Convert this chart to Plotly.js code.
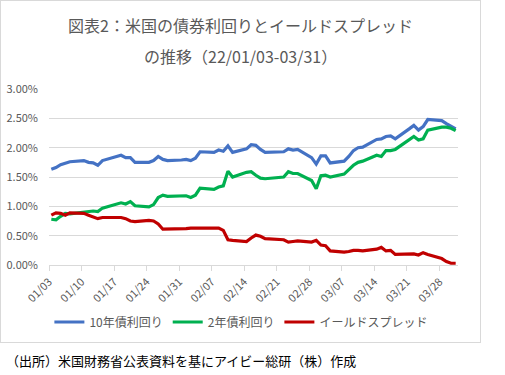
<!DOCTYPE html>
<html>
<head>
<meta charset="utf-8">
<script src="https://cdn.plot.ly/plotly-3.0.1.min.js"></script>
<style>
  html, body { margin: 0; padding: 0; background: #fff; }
  #wrap { position: relative; width: 505px; height: 375px; }
  #chart { width: 505px; height: 375px; }
  #frame { position: absolute; left: 0; top: 0; width: 479px; height: 341px;
           border: 1px solid #d9d9d9; pointer-events: none; }
</style>
</head>
<body>
<div id="wrap"><div id="chart"></div><div id="frame"></div></div>
<script>
// Business days, 2022
const dates = [
  '01-03','01-04','01-05','01-06','01-07','01-10','01-11','01-12','01-13','01-14',
  '01-18','01-19','01-20','01-21','01-24','01-25','01-26','01-27','01-28','01-31',
  '02-01','02-02','02-03','02-04','02-07','02-08','02-09','02-10','02-11','02-14',
  '02-15','02-16','02-17','02-18','02-22','02-23','02-24','02-25','02-28',
  '03-01','03-02','03-03','03-04','03-07','03-08','03-09','03-10','03-11','03-14',
  '03-15','03-16','03-17','03-18','03-21','03-22','03-23','03-24','03-25','03-28',
  '03-29','03-30','03-31'
];
// 10-year yield (%)
const yield10 = [
  1.63,1.66,1.71,1.73,1.76,1.78,1.75,1.74,1.70,1.78,
  1.87,1.83,1.83,1.75,1.75,1.78,1.85,1.80,1.78,1.79,
  1.80,1.78,1.82,1.93,1.92,1.96,1.94,2.03,1.92,1.98,
  2.05,2.04,1.97,1.92,1.93,1.98,1.96,1.97,1.83,
  1.72,1.86,1.86,1.74,1.77,1.85,1.95,2.00,2.01,2.14,
  2.15,2.19,2.20,2.15,2.32,2.38,2.30,2.36,2.48,2.46,
  2.41,2.36,2.32
];
// 2-year yield (%)
const yield2 = [
  0.78,0.77,0.83,0.88,0.87,0.90,0.90,0.92,0.91,0.97,
  1.06,1.04,1.08,1.01,0.99,1.03,1.15,1.19,1.17,1.18,
  1.18,1.15,1.19,1.31,1.29,1.33,1.35,1.60,1.50,1.58,
  1.59,1.53,1.48,1.47,1.50,1.59,1.56,1.56,1.44,
  1.30,1.52,1.53,1.50,1.55,1.62,1.70,1.75,1.77,1.87,
  1.85,1.95,1.95,1.97,2.14,2.19,2.13,2.15,2.30,2.35,
  2.35,2.33,2.29
];
// Yield spread (%)
const spread = [
  0.85,0.89,0.88,0.85,0.89,0.88,0.85,0.82,0.79,0.81,
  0.81,0.79,0.75,0.74,0.76,0.75,0.70,0.61,0.61,0.61,
  0.62,0.63,0.63,0.62,0.63,0.63,0.59,0.43,0.42,0.40,
  0.46,0.51,0.49,0.45,0.43,0.39,0.40,0.41,0.39,
  0.42,0.34,0.33,0.24,0.22,0.23,0.25,0.25,0.24,0.27,
  0.30,0.24,0.25,0.18,0.18,0.19,0.17,0.21,0.18,0.11,
  0.06,0.03,0.03
];
const seriesNames = ['10年債利回り', '2年債利回り', 'イールドスプレッド'];
const titleLine1 = '図表2：米国の債券利回りとイールドスプレッド';
const titleLine2 = 'の推移（22/01/03-03/31）';
const sourceText = '（出所）米国財務省公表資料を基にアイビー総研（株）作成';

const xs = dates.map(d => '2022-' + d + ' 12:00');
const font = '"Noto Sans CJK JP", "Noto Sans", sans-serif';

const mk = (y, name, color) => ({
  x: xs, y: y, name: name, type: 'scatter', mode: 'lines',
  line: { color: color, width: 3.2 }
});
const traces = [
  mk(yield10, seriesNames[0], '#4472C4'),
  mk(yield2, seriesNames[1], '#00B050'),
  mk(spread, seriesNames[2], '#C00000')
];

// pixel -> paper helpers (plot area: x 49..456, y 89..265)
const L = 49, R = 47, T = 89, B = 110, W = 505, H = 375;
const pw = W - L - R, ph = H - T - B;
const px = v => (v - L) / pw;
const py = v => (H - B - v) / ph;

const layout = {
  width: W, height: H,
  margin: { l: L, r: R, t: T, b: B, pad: 0 },
  paper_bgcolor: '#ffffff', plot_bgcolor: '#ffffff',
  font: { family: font, color: '#595959', size: 11 },
  showlegend: true,
  legend: {
    orientation: 'h', xref: 'container', yref: 'container',
    x: 0.478, xanchor: 'center', y: 1 - 322 / 375, yanchor: 'middle',
    font: { family: font, size: 12, color: '#595959' },
    itemwidth: 30, tracegroupgap: 0, traceorder: 'normal'
  },
  xaxis: {
    type: 'date',
    range: ['2022-01-03', '2022-04-01'],
    tick0: '2022-01-03', dtick: 7 * 86400000,
    tickformat: '%m/%d', tickangle: -45,
    ticks: 'outside', ticklen: 5, tickcolor: '#d9d9d9', tickwidth: 1,
    showline: true, linecolor: '#d9d9d9', linewidth: 1,
    showgrid: false, zeroline: false,
    tickfont: { family: font, size: 11, color: '#595959' },
    fixedrange: true
  },
  yaxis: {
    range: [0, 3], dtick: 0.5, tick0: 0,
    tickformat: '.2f', ticksuffix: '%',
    showgrid: true, gridcolor: '#d9d9d9', gridwidth: 1,
    zeroline: false, showline: false, ticks: '',
    ticklabelstandoff: 10,
    tickfont: { family: font, size: 11, color: '#595959' },
    fixedrange: true
  },
  annotations: [
    { text: titleLine1, xref: 'paper', yref: 'paper', x: px(240), y: py(25),
      xanchor: 'center', yanchor: 'middle', showarrow: false,
      font: { family: font, size: 16, color: '#595959' } },
    { text: titleLine2, xref: 'paper', yref: 'paper', x: px(240), y: py(56),
      xanchor: 'center', yanchor: 'middle', showarrow: false,
      font: { family: font, size: 16, color: '#595959' } },
    { text: sourceText, xref: 'paper', yref: 'paper', x: px(4), y: py(360),
      xanchor: 'left', yanchor: 'middle', showarrow: false,
      font: { family: font, size: 13, color: '#000000' } }
  ]
};

Plotly.newPlot('chart', traces, layout, { staticPlot: true, displayModeBar: false });
</script>
</body>
</html>
